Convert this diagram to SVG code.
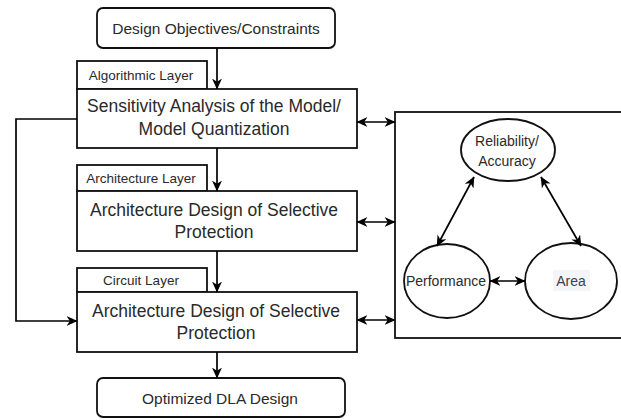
<svg xmlns="http://www.w3.org/2000/svg" width="621" height="420" viewBox="0 0 621 420">
  <defs>
    <marker id="arrow" viewBox="0 0 10 10" refX="9.5" refY="5" markerWidth="11" markerHeight="10" orient="auto-start-reverse" markerUnits="userSpaceOnUse" preserveAspectRatio="none">
      <path d="M0,0 L10,5 L0,10 L3,5 Z" fill="#000"/>
    </marker>
    <style>
      .box { fill: #fff; stroke: #111; stroke-width: 1.8; }
      .line { fill: none; stroke: #000; stroke-width: 1.7; }
      text { font-family: "Liberation Sans", Arial, sans-serif; fill: #2a2a2a; text-anchor: middle; }
      .big { font-size: 17.5px; }
      .mid { font-size: 15.5px; }
      .tab { font-size: 13.5px; }
      .ell { font-size: 14px; }
    </style>
  </defs>

  <!-- design objectives -->
  <g id="objectives">
    <rect class="box" x="97" y="8" width="238" height="40" rx="6"/>
    <text class="mid" x="216" y="34">Design Objectives/Constraints</text>
  </g>

  <!-- algorithmic layer -->
  <g id="algorithmic-tab">
    <rect class="box" x="77" y="61" width="130" height="28"/>
    <text class="tab" x="141" y="80">Algorithmic Layer</text>
  </g>
  <g id="sensitivity">
    <rect class="box" x="77" y="89" width="280" height="59"/>
    <text class="big" x="214" y="112">Sensitivity Analysis of the Model/</text>
    <text class="big" x="214" y="135">Model Quantization</text>
  </g>

  <!-- architecture layer -->
  <g id="architecture-tab">
    <rect class="box" x="77" y="165" width="130" height="26"/>
    <text class="tab" x="141" y="183">Architecture Layer</text>
  </g>
  <g id="architecture">
    <rect class="box" x="77" y="191" width="280" height="60"/>
    <text class="big" x="214" y="216">Architecture Design of Selective</text>
    <text class="big" x="214" y="238">Protection</text>
  </g>

  <!-- circuit layer -->
  <g id="circuit-tab">
    <rect class="box" x="77" y="268" width="130" height="24"/>
    <text class="tab" x="141" y="285">Circuit Layer</text>
  </g>
  <g id="circuit">
    <rect class="box" x="77" y="292" width="280" height="60"/>
    <text class="big" x="216" y="317">Architecture Design of Selective</text>
    <text class="big" x="216" y="339">Protection</text>
  </g>

  <!-- output -->
  <g id="optimized">
    <rect class="box" x="97" y="378" width="248" height="39" rx="6"/>
    <text class="mid" x="220" y="404">Optimized DLA Design</text>
  </g>

  <!-- trade-off panel -->
  <g id="tradeoff">
    <rect class="box" x="395" y="112" width="240" height="226"/>
  </g>
  <g id="reliability">
    <ellipse class="box" cx="508" cy="150" rx="47" ry="31"/>
    <text class="ell" x="507" y="146">Reliability/</text>
    <text class="ell" x="507" y="166">Accuracy</text>
  </g>
  <g id="performance">
    <ellipse class="box" cx="447" cy="281" rx="43" ry="37"/>
    <text class="ell" x="446" y="286">Performance</text>
  </g>
  <g id="area">
    <ellipse class="box" cx="571" cy="281" rx="46" ry="38"/>
    <rect x="553" y="270" width="37" height="21" fill="#f4f5f7"/>
    <text class="ell" x="571" y="286" style="fill:#3a4150">Area</text>
  </g>

  <!-- connectors -->
  <g id="connectors">
    <line class="line" x1="217" y1="48" x2="217" y2="89" marker-end="url(#arrow)"/>
    <line class="line" x1="217" y1="148" x2="217" y2="191" marker-end="url(#arrow)"/>
    <line class="line" x1="217" y1="251" x2="217" y2="292" marker-end="url(#arrow)"/>
    <line class="line" x1="217" y1="352" x2="217" y2="378" marker-end="url(#arrow)"/>
    <polyline class="line" points="77,119 16,119 16,321 77,321" marker-end="url(#arrow)"/>
    <line class="line" x1="357" y1="122" x2="395" y2="122" marker-start="url(#arrow)" marker-end="url(#arrow)"/>
    <line class="line" x1="357" y1="222" x2="395" y2="222" marker-start="url(#arrow)" marker-end="url(#arrow)"/>
    <line class="line" x1="357" y1="320" x2="395" y2="320" marker-start="url(#arrow)" marker-end="url(#arrow)"/>
    <line class="line" x1="474" y1="177" x2="437" y2="246" marker-start="url(#arrow)" marker-end="url(#arrow)"/>
    <line class="line" x1="541" y1="177" x2="581" y2="246" marker-start="url(#arrow)" marker-end="url(#arrow)"/>
    <line class="line" x1="490" y1="281" x2="525" y2="281" marker-start="url(#arrow)" marker-end="url(#arrow)"/>
  </g>
</svg>
